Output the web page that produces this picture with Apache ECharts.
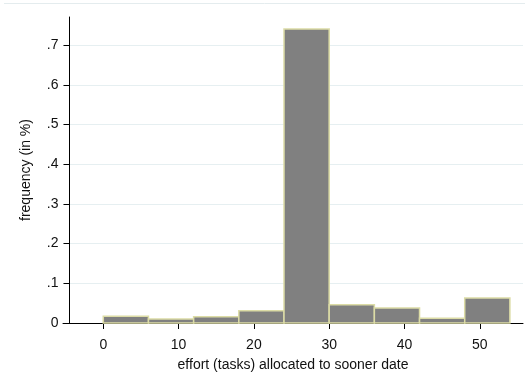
<!DOCTYPE html>
<html>
<head>
<meta charset="utf-8">
<script src="https://cdn.jsdelivr.net/npm/echarts@6/dist/echarts.min.js"></script>
<style>
  html, body { margin: 0; padding: 0; background: #ffffff; }
  #chart { width: 525px; height: 377px; }
</style>
</head>
<body>
<div id="chart"></div>
<script>
// Histogram bins (width 6 tasks) and the share of subjects in each
const binStarts = [0, 6, 12, 18, 24, 30, 36, 42, 48];
const binWidth = 6;
const frequencies = [0.017, 0.010, 0.016, 0.031, 0.741, 0.046, 0.038, 0.012, 0.063];
const xTicks = [0, 10, 20, 30, 40, 50];
const yTicks = [0, 0.1, 0.2, 0.3, 0.4, 0.5, 0.6, 0.7];

const bars = binStarts.map((s, i) => [s, s + binWidth, frequencies[i]]);

const chart = echarts.init(document.getElementById('chart'), null, { renderer: 'canvas' });
const font = 'Liberation Sans, Arial, sans-serif';

chart.setOption({
  animation: false,
  backgroundColor: '#ffffff',
  grid: { left: 63, right: 2, top: 17, bottom: 49.3, containLabel: false },
  xAxis: {
    type: 'value',
    min: -5.35,
    max: 55.74,
    name: 'effort (tasks) allocated to sooner date',
    nameLocation: 'middle',
    nameGap: 35,
    nameTextStyle: { fontFamily: font, fontSize: 14, color: '#111' },
    axisLine: { show: true, onZero: false, lineStyle: { color: '#000', width: 1 } },
    axisTick: { show: true, length: 6, lineStyle: { color: '#000' }, customValues: xTicks },
    axisLabel: { fontFamily: font, fontSize: 14, color: '#111', margin: 15, customValues: xTicks },
    splitLine: { show: false }
  },
  yAxis: {
    type: 'value',
    min: 0,
    max: 0.771,
    offset: -6.5,
    name: 'frequency (in %)',
    nameLocation: 'middle',
    nameGap: 36,
    nameRotate: 90,
    nameTextStyle: { fontFamily: font, fontSize: 14, color: '#111' },
    axisLine: { show: true, onZero: false, lineStyle: { color: '#000', width: 1 } },
    axisTick: { show: true, length: 6, lineStyle: { color: '#000' }, customValues: yTicks },
    axisLabel: {
      fontFamily: font, fontSize: 14, color: '#111', margin: 11,
      customValues: yTicks,
      formatter: v => (Math.abs(v) < 1e-9 ? '0' : v.toFixed(1).replace(/^0\./, '.'))
    },
    splitLine: { show: true, lineStyle: { color: '#e6eff1', width: 1 } }
  },
  graphic: [{
    type: 'line',
    shape: { x1: 4, y1: 3.5, x2: 525, y2: 3.5 },
    style: { stroke: '#e4ecee', lineWidth: 1 },
    silent: true
  }],
  series: [{
    type: 'custom',
    data: bars,
    renderItem: function (params, api) {
      const p0 = api.coord([api.value(0), 0]);
      const p1 = api.coord([api.value(1), api.value(2)]);
      return {
        type: 'rect',
        shape: { x: p0[0], y: p1[1], width: p1[0] - p0[0], height: p0[1] - p1[1] },
        style: { fill: '#808080', stroke: '#dcdca6', lineWidth: 1.5 }
      };
    },
    encode: { x: [0, 1], y: 2 }
  }]
});
</script>
</body>
</html>
